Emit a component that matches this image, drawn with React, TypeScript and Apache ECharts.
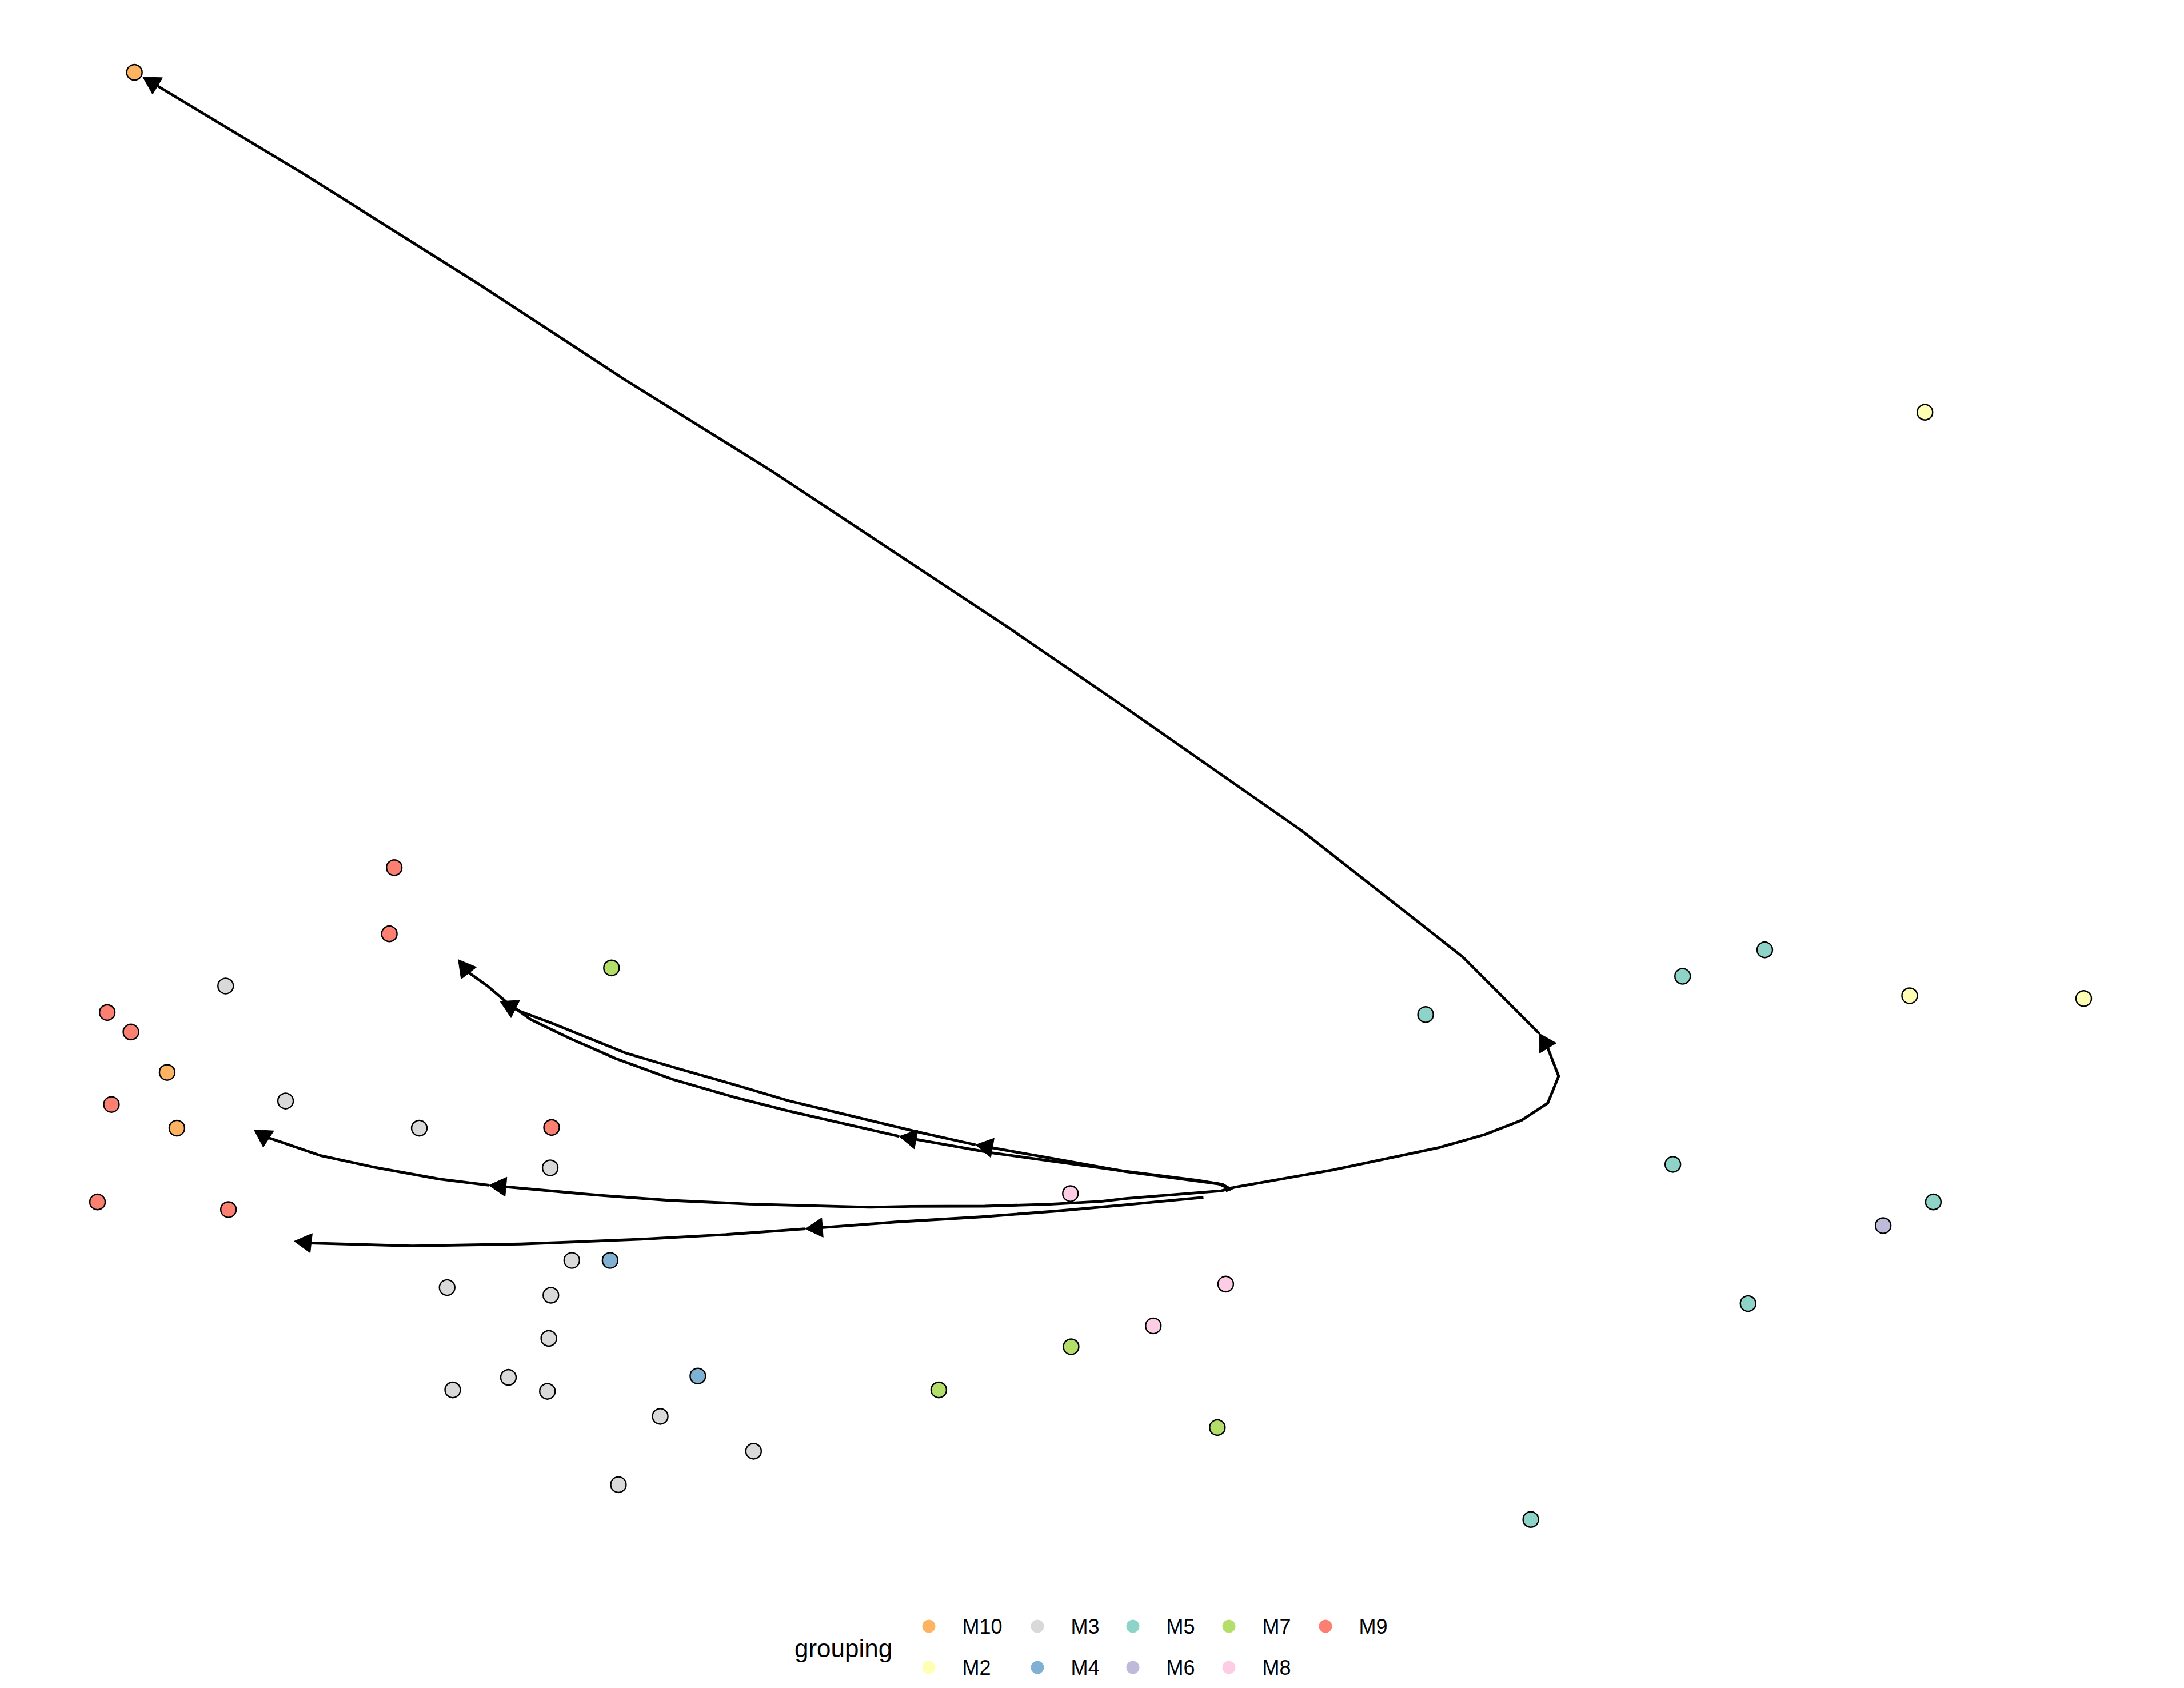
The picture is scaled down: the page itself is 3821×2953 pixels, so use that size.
import React, { useEffect, useRef } from "react";
import * as echarts from "echarts";

// Coordinates are in embedding units (no axes are shown in the reference)
const groupNames = ["M10", "M2", "M3", "M4", "M5", "M6", "M7", "M8", "M9"];
const groupColors: Record<string, string> = {
  M10: "#FDB462",
  M2: "#FFFFB3",
  M3: "#D9D9D9",
  M4: "#80B1D3",
  M5: "#8DD3C7",
  M6: "#BEBADA",
  M7: "#B3DE69",
  M8: "#FCCDE5",
  M9: "#FB8072",
};

const M10 = [[96.5, 52], [120, 770], [127, 810]];
const M2 = [[1382, 296], [1371, 715], [1496, 717]];
const M3 = [
  [162, 708], [205, 790.5], [301, 810], [395, 838.5], [410.5, 905], [321, 924.5],
  [395.5, 930], [394, 961], [325, 998], [365, 989], [393, 999], [474, 1017],
  [541, 1042], [444, 1066],
];
const M4 = [[438, 905], [501, 988]];
const M5 = [[1023.5, 728.5], [1208, 701], [1267, 682], [1201, 836], [1388, 863], [1255, 936], [1099, 1091]];
const M6 = [[1352, 880]];
const M7 = [[439, 695], [769, 967], [674, 998], [874, 1025]];
const M8 = [[768.5, 857], [828, 952], [880, 922]];
const M9 = [[283, 623], [279.5, 670.5], [77, 727], [94, 741], [80, 793], [396, 809.5], [70, 863], [164, 868.5]];

const groupData: Record<string, number[][]> = { M10, M2, M3, M4, M5, M6, M7, M8, M9 };

// Lineage curves, each split in two pieces (an arrowhead closes each piece)
const lineageLong1 = [
  [880, 855], [886, 852.5], [957, 840], [995, 832], [1033, 824], [1066, 814.6],
  [1092.4, 804.3], [1111.2, 792], [1119, 772.7], [1111, 752], [1105, 742],
];
const lineageLong2 = [
  [1105, 742], [1050.5, 687.4], [1025.9, 668], [934.4, 596.3], [804.3, 505.5],
  [726.3, 452.2], [554, 338.2], [448, 272.2], [344.4, 204.4], [217.7, 124.7], [102.6, 55.4],
];
const lineageA1 = [
  [884, 854], [878, 850.5], [860, 847.5], [808.4, 841], [711, 827.6], [645.6, 815.9],
];
const lineageA2 = [
  [645.6, 815.9], [595, 804.3], [566.3, 797.7], [528, 788], [483, 775], [442, 760],
  [410, 746], [381, 732], [363, 719], [350, 708], [336, 698], [329, 689],
];
const lineageB1 = [
  [884, 854], [875, 850], [808.4, 841.2], [757, 832], [700.4, 822],
];
const lineageB2 = [
  [700.4, 822], [657.9, 812.5], [595, 797.3], [566, 790.3], [528, 779], [486, 767],
  [449, 756], [397, 735], [373, 726], [359, 719],
];
const lineageC1 = [
  [885, 852.7], [877, 855], [808.4, 860.5], [790.7, 862.6], [753.7, 864.6], [707, 866],
  [653.8, 866.2], [623.8, 866.8], [538, 864.5], [480, 861.8], [431.3, 858.3], [351, 851],
];
const lineageC2 = [
  [351, 851], [316.3, 846.7], [267.4, 837.8], [229.8, 829.6], [189.6, 815.8], [182.4, 811.2],
];
const lineageD1 = [
  [864, 859.7], [808.4, 865], [759, 869.5], [704.5, 873.7], [643, 877.4], [623.8, 878.9], [578.2, 882.3],
];
const lineageD2 = [
  [578.2, 882.3], [520, 886.5], [460.2, 889.8], [373.8, 893.2], [296.1, 894.6], [222.8, 892.5],
  [211.2, 891.2],
];

const curvePieces = [
  lineageLong1, lineageLong2, lineageA1, lineageA2, lineageB1, lineageB2,
  lineageC1, lineageC2, lineageD1, lineageD2,
];

const legendColumns = [["M10", "M2"], ["M3", "M4"], ["M5", "M6"], ["M7", "M8"], ["M9"]];
const legendColumnX = [1625, 1815, 1982, 2150, 2319];

const FONT = "'Liberation Sans', Arial, Helvetica, sans-serif";

export default function App() {
  const ref = useRef<HTMLDivElement>(null);

  useEffect(() => {
    const chart = echarts.init(ref.current!, null, { renderer: "svg" });

    const scatterSeries = groupNames.map((g) => ({
      name: g,
      type: "scatter",
      data: groupData[g],
      symbol: "circle",
      symbolSize: 27,
      z: 2,
      itemStyle: { color: groupColors[g], borderColor: "#000", borderWidth: 2.4, opacity: 1 },
      emphasis: { disabled: true },
      silent: true,
    }));

    const curveSeries = {
      type: "custom",
      name: "lineages",
      z: 3,
      silent: true,
      clip: false,
      data: curvePieces.map((p) => p[p.length - 1]),
      renderItem: (params: any, api: any) => {
        const piece = curvePieces[params.dataIndex];
        const pts = piece.map((p) => api.coord(p));
        const n = pts.length;
        const tip = pts[n - 1];
        const prev = pts[n - 2];
        const dx = tip[0] - prev[0];
        const dy = tip[1] - prev[1];
        const len = Math.hypot(dx, dy) || 1;
        const ux = dx / len;
        const uy = dy / len;
        const L = 30;
        const W = 34;
        const bx = tip[0] - ux * L;
        const by = tip[1] - uy * L;
        const px = -uy;
        const py = ux;
        const tri = [
          [tip[0], tip[1]],
          [bx + (px * W) / 2, by + (py * W) / 2],
          [bx - (px * W) / 2, by - (py * W) / 2],
        ];
        const linePts = pts.slice(0, n - 1).concat([[tip[0] - ux * L * 0.6, tip[1] - uy * L * 0.6]]);
        return {
          type: "group",
          children: [
            {
              type: "polyline",
              shape: { points: linePts },
              style: { stroke: "#000", lineWidth: 4.8, fill: null, lineJoin: "round" },
            },
            {
              type: "polygon",
              shape: { points: tri },
              style: { fill: "#000", stroke: "#000", lineWidth: 1 },
            },
          ],
        };
      },
    };

    const legends = legendColumns.map((col, i) => ({
      show: true,
      orient: "vertical",
      left: legendColumnX[i] - 16.5,
      top: 2820,
      itemWidth: 23,
      itemHeight: 23,
      itemGap: 32,
      icon: "circle",
      selectedMode: false,
      data: col,
      itemStyle: { borderWidth: 0 },
      textStyle: {
        fontFamily: FONT,
        fontSize: 36,
        color: "#000",
        lineHeight: 40,
        padding: [0, 0, 0, 42],
      },
    }));

    chart.setOption({
      animation: false,
      backgroundColor: "#fff",
      grid: { left: 0, right: 0, top: 0, bottom: 0 },
      xAxis: { type: "value", min: 0, max: 1568, show: false },
      yAxis: { type: "value", min: 0, max: 1212, inverse: true, show: false },
      title: {
        text: "grouping",
        left: 1385,
        top: 2852,
        textStyle: {
          fontFamily: FONT,
          fontSize: 44,
          fontWeight: "normal",
          color: "#000",
          lineHeight: 52,
        },
      },
      legend: legends,
      series: [...scatterSeries, curveSeries],
    });

    return () => chart.dispose();
  }, []);

  return (
    <div
      ref={ref}
      style={{ position: "fixed", left: 0, top: 0, width: 3821, height: 2953, background: "#fff" }}
    />
  );
}
